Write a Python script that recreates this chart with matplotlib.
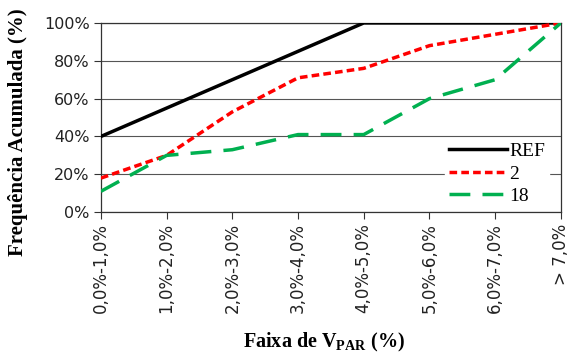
import matplotlib
matplotlib.use('Agg')
import matplotlib.pyplot as plt
import numpy as np

faixas = ['0,0%-1,0%', '1,0%-2,0%', '2,0%-3,0%', '3,0%-4,0%', '4,0%-5,0%',
          '5,0%-6,0%', '6,0%-7,0%', '> 7,0%']
ref = [40, 55, 70, 85, 100, 100, 100, 100]
s2 = [18, 30, 53, 71, 76, 88, 94, 100]
s18 = [11, 30, 33, 41, 41, 60, 70, 100]

plt.rcParams['font.family'] = ['Liberation Serif', 'DejaVu Serif']
plt.rcParams['mathtext.fontset'] = 'custom'
plt.rcParams['mathtext.rm'] = 'Liberation Serif'
plt.rcParams['mathtext.bf'] = 'Liberation Serif:bold'

fig = plt.figure(figsize=(5.7, 3.53), dpi=100)
ax = fig.add_axes([0.177, 0.399, 0.807, 0.536])

x = np.arange(len(faixas))
ax.plot(x, ref, color='black', lw=2.5, label='REF', zorder=3)
ax.plot(x, s2, color='#ff0000', lw=2.5, dashes=(2.2, 1.2), label='2', zorder=3)
ax.plot(x, s18, color='#00b050', lw=2.5, dashes=(6, 3.5), label='18', zorder=3)

ax.set_xlim(0, len(faixas) - 1)
ax.set_ylim(0, 100)
ax.set_yticks(range(0, 101, 20))
ax.set_yticklabels([f'{v}%' for v in range(0, 101, 20)], fontsize=11.5,
                   family='DejaVu Sans', color='#222222')
ax.set_xticks(x)
ax.set_xticklabels(faixas, rotation=90, fontsize=12, family='DejaVu Sans',
                   color='#222222')
ax.yaxis.grid(True, color='#555555', lw=0.8)
ax.set_axisbelow(True)
for s in ax.spines.values():
    s.set_color('#333333')
    s.set_linewidth(0.9)
ax.tick_params(axis='both', color='#333333', length=5, pad=3)

ax.set_ylabel('Frequência Acumulada (%)', fontsize=15, fontweight='bold')
ax.yaxis.set_label_coords(-0.159, 0.424)
ax.set_xlabel('Faixa de V$_{\\mathbf{PAR}}$ (%)', fontsize=14.5, fontweight='bold')
ax.xaxis.set_label_coords(0.485, -0.63)

leg = ax.legend(loc='lower right', fontsize=14, frameon=True, framealpha=1,
                edgecolor='white', fancybox=False, handlelength=3.0,
                handletextpad=0.1, labelspacing=0.25, borderpad=0.2,
                bbox_to_anchor=(0.995, -0.035))

fig.savefig('out.png', dpi=100)
